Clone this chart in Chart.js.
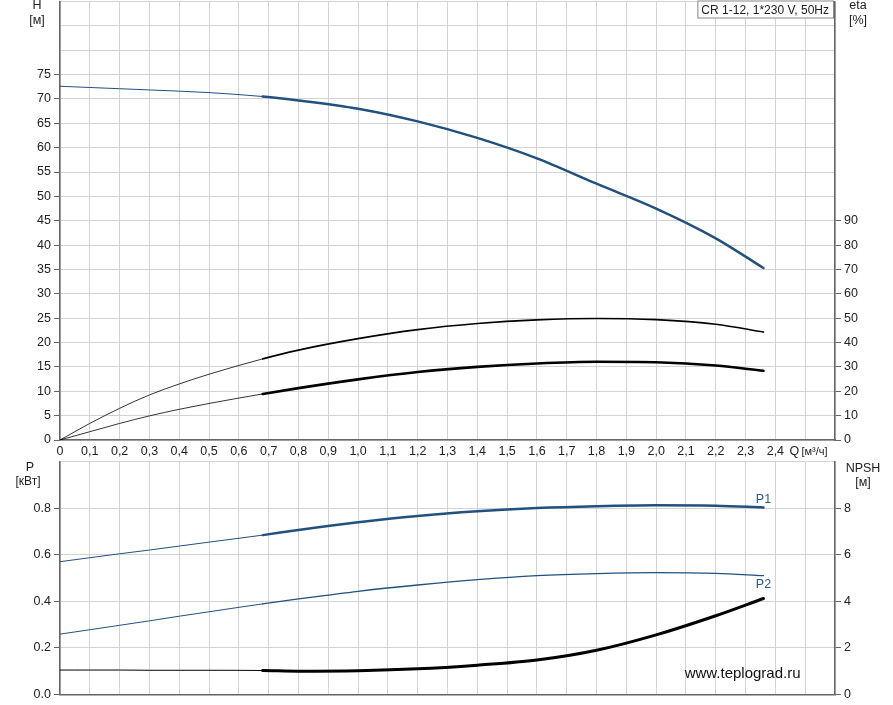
<!DOCTYPE html>
<html>
<head>
<meta charset="utf-8">
<script src="https://cdn.jsdelivr.net/npm/chart.js@4.4.1/dist/chart.umd.min.js"></script>
<style>
  body { margin: 0; background: #fff; overflow: hidden; }
  #wrap { position: relative; width: 893px; height: 705px; overflow: hidden; }
  #topBox { position: absolute; left: 0; top: -9px; width: 893px; height: 471px; }
  #botBox { position: absolute; left: 0; top: 451px; width: 893px; height: 254px; }
</style>
</head>
<body>
<div id="wrap">
  <div id="topBox"><canvas id="topChart"></canvas></div>
  <div id="botBox"><canvas id="botChart"></canvas></div>
</div>
<script>
// flow points, m3/h
const q = [0, 0.1, 0.2, 0.3, 0.4, 0.5, 0.68, 0.8, 1.0, 1.2, 1.4, 1.6, 1.8, 2.0, 2.2, 2.36];
// head, m
const head = [72.6, 72.35, 72.1, 71.85, 71.6, 71.3, 70.5, 69.7, 68.0, 65.4, 62.0, 57.8, 52.6, 47.5, 41.4, 35.3];
// efficiency, %
const etaPump = [0, 6.8, 13.0, 18.5, 23.0, 27.0, 33.3, 36.9, 41.6, 45.3, 47.8, 49.3, 49.9, 49.4, 47.5, 44.3];
const etaTotal = [0, 3.4, 6.8, 9.9, 12.6, 15.0, 18.9, 21.3, 24.9, 27.9, 30.0, 31.4, 32.1, 31.9, 30.6, 28.4];
// power, kW
const p1 = [0.570, 0.587, 0.604, 0.620, 0.637, 0.654, 0.684, 0.706, 0.739, 0.766, 0.786, 0.800, 0.808, 0.812, 0.810, 0.803];
const p2 = [0.259, 0.278, 0.297, 0.316, 0.336, 0.355, 0.389, 0.410, 0.443, 0.470, 0.493, 0.510, 0.519, 0.523, 0.520, 0.510];
// NPSH, m
const npsh = [1.05, 1.05, 1.05, 1.04, 1.04, 1.04, 1.03, 1.0, 1.02, 1.1, 1.26, 1.48, 1.9, 2.56, 3.38, 4.12];

const qDuty = 0.68;       // thin line before, thick after
const qLabelMax = 2.4;

const FONT = "'Liberation Sans', Arial, sans-serif";
const BLUE = '#22507f';
const GRID = '#d3d3d3';
const AXIS = '#666';

function pts(ys) { return q.map((x, i) => ({ x: x, y: ys[i] })); }

function curve(label, ys, axis, color, thin, thick) {
    return {
        label: label,
        data: pts(ys),
        yAxisID: axis,
        borderColor: color,
        borderWidth: thick,
        borderCapStyle: 'round',
        pointRadius: 0,
        fill: false,
        cubicInterpolationMode: 'monotone',
        segment: { borderWidth: c => c.p0.parsed.x >= qDuty - 1e-6 ? thick : thin }
    };
}

function qFmt(v) {
    return v <= qLabelMax + 1e-6 ? (v === 0 ? '0' : v.toFixed(1).replace('.', ',')) : '';
}

const tickFont = { family: FONT, size: 12.5 };

const topLabels = {
    id: 'topLabels',
    afterDraw(chart) {
        const ctx = chart.ctx, a = chart.chartArea, xs = chart.scales.x;
        ctx.save();
        ctx.font = '12.5px ' + FONT;
        ctx.fillStyle = '#222';
        ctx.textAlign = 'center';
        ctx.textBaseline = 'middle';
        ctx.fillText('H', a.left - 23, a.top + 4);
        ctx.fillText('[м]', a.left - 23, a.top + 19);
        ctx.fillText('eta', a.right + 23, a.top + 4);
        ctx.fillText('[%]', a.right + 23, a.top + 19);
        // Q axis caption
        ctx.textAlign = 'left';
        const qx = xs.getPixelForValue(qLabelMax) + 14;
        ctx.fillText('Q', qx, a.bottom + 12);
        ctx.font = '11px ' + FONT;
        ctx.fillText('[м³/ч]', qx + 12, a.bottom + 12);
        // title box
        ctx.font = '12px ' + FONT;
        const title = 'CR 1-12, 1*230 V, 50Hz';
        const w = ctx.measureText(title).width + 8;
        ctx.fillStyle = '#fff';
        ctx.fillRect(a.right - w - 2, a.top - 1, w, 18);
        ctx.strokeStyle = '#888';
        ctx.lineWidth = 1;
        ctx.strokeRect(a.right - w - 2 + 0.5, a.top - 0.5, w, 17);
        ctx.fillStyle = '#222';
        ctx.fillText(title, a.right - w + 2, a.top + 9);
        ctx.restore();
    }
};

const botLabels = {
    id: 'botLabels',
    afterDraw(chart) {
        const ctx = chart.ctx, a = chart.chartArea;
        const xs = chart.scales.x, yp = chart.scales.yP, yn = chart.scales.yN;
        ctx.save();
        ctx.font = '12.5px ' + FONT;
        ctx.fillStyle = '#222';
        ctx.textAlign = 'center';
        ctx.textBaseline = 'middle';
        ctx.fillText('P', a.left - 30, a.top + 6);
        ctx.font = '12px ' + FONT;
        ctx.fillText('[кВт]', a.left - 32, a.top + 20);
        ctx.font = '12.5px ' + FONT;
        ctx.fillText('NPSH', a.right + 28, a.top + 7);
        ctx.fillText('[м]', a.right + 28, a.top + 21);
        const qe = q[q.length - 1];
        ctx.fillStyle = '#2b5a8c';
        ctx.fillText('P1', xs.getPixelForValue(qe), yp.getPixelForValue(p1[p1.length - 1]) - 8);
        ctx.fillText('P2', xs.getPixelForValue(qe), yp.getPixelForValue(p2[p2.length - 1]) + 9);
        ctx.fillStyle = '#111';
        ctx.font = '15px ' + FONT;
        ctx.fillText('www.teplograd.ru', xs.getPixelForValue(2.29), yn.getPixelForValue(0.9));
        ctx.restore();
    }
};

const xGrid = { color: GRID, drawTicks: false };

new Chart(document.getElementById('topChart'), {
    type: 'line',
    data: {
        datasets: [
            curve('H', head, 'yH', BLUE, 1, 2.5),
            curve('eta', etaPump, 'yEta', '#000', 0.8, 1.6),
            curve('eta total', etaTotal, 'yEta', '#000', 0.8, 2.6)
        ]
    },
    options: {
        responsive: true,
        maintainAspectRatio: false,
        animation: false,
        layout: { padding: { top: 1, left: 0, right: 0, bottom: 0 } },
        plugins: { legend: { display: false }, tooltip: { enabled: false } },
        scales: {
            x: {
                type: 'linear', min: 0, max: 2.6,
                grid: xGrid,
                border: { color: AXIS, width: 1.5 },
                ticks: { stepSize: 0.1, autoSkip: false, maxRotation: 0, padding: 4, font: tickFont, color: '#222', callback: qFmt },
                afterFit: s => { s.height = 22; }
            },
            yH: {
                position: 'left', min: 0, max: 90,
                grid: { color: GRID, tickLength: 6, tickColor: c => c.tick && c.tick.value <= 75 ? AXIS : 'rgba(0,0,0,0)' },
                border: { color: AXIS, width: 1.5 },
                ticks: { stepSize: 5, padding: 3, font: tickFont, color: '#222', callback: v => v <= 75 ? v : '' },
                afterFit: s => { s.width = 60; }
            },
            yEta: {
                position: 'right', min: 0, max: 180,
                grid: { drawOnChartArea: false, tickLength: 6, tickColor: c => c.tick && c.tick.value <= 90 ? AXIS : 'rgba(0,0,0,0)' },
                border: { color: AXIS, width: 1.5 },
                ticks: { stepSize: 10, padding: 3, font: tickFont, color: '#222', callback: v => v <= 90 ? v : '' },
                afterFit: s => { s.width = 58; }
            }
        }
    },
    plugins: [topLabels]
});

new Chart(document.getElementById('botChart'), {
    type: 'line',
    data: {
        datasets: [
            curve('P1', p1, 'yP', BLUE, 1, 2.5),
            curve('P2', p2, 'yP', BLUE, 1, 1.3),
            curve('NPSH', npsh, 'yN', '#000', 1, 3)
        ]
    },
    options: {
        responsive: true,
        maintainAspectRatio: false,
        animation: false,
        layout: { padding: { top: 2, left: 0, right: 0, bottom: 0 } },
        plugins: { legend: { display: false }, tooltip: { enabled: false } },
        scales: {
            x: {
                type: 'linear', min: 0, max: 2.6,
                grid: xGrid,
                border: { color: AXIS, width: 1.5 },
                ticks: { stepSize: 0.1, display: false },
                afterFit: s => { s.height = 10; }
            },
            yP: {
                position: 'left', min: 0, max: 1.0,
                grid: { color: GRID, tickLength: 6, tickColor: c => c.tick && c.tick.value <= 0.81 ? AXIS : 'rgba(0,0,0,0)' },
                border: { color: AXIS, width: 1.5 },
                ticks: { stepSize: 0.2, padding: 3, font: tickFont, color: '#222', callback: v => v <= 0.81 ? v.toFixed(1) : '' },
                afterFit: s => { s.width = 60; }
            },
            yN: {
                position: 'right', min: 0, max: 10,
                grid: { drawOnChartArea: false, tickLength: 6, tickColor: c => c.tick && c.tick.value <= 8 ? AXIS : 'rgba(0,0,0,0)' },
                border: { color: AXIS, width: 1.5 },
                ticks: { stepSize: 2, padding: 3, font: tickFont, color: '#222', callback: v => v <= 8 ? v : '' },
                afterFit: s => { s.width = 58; }
            }
        }
    },
    plugins: [botLabels]
});
</script>
</body>
</html>
